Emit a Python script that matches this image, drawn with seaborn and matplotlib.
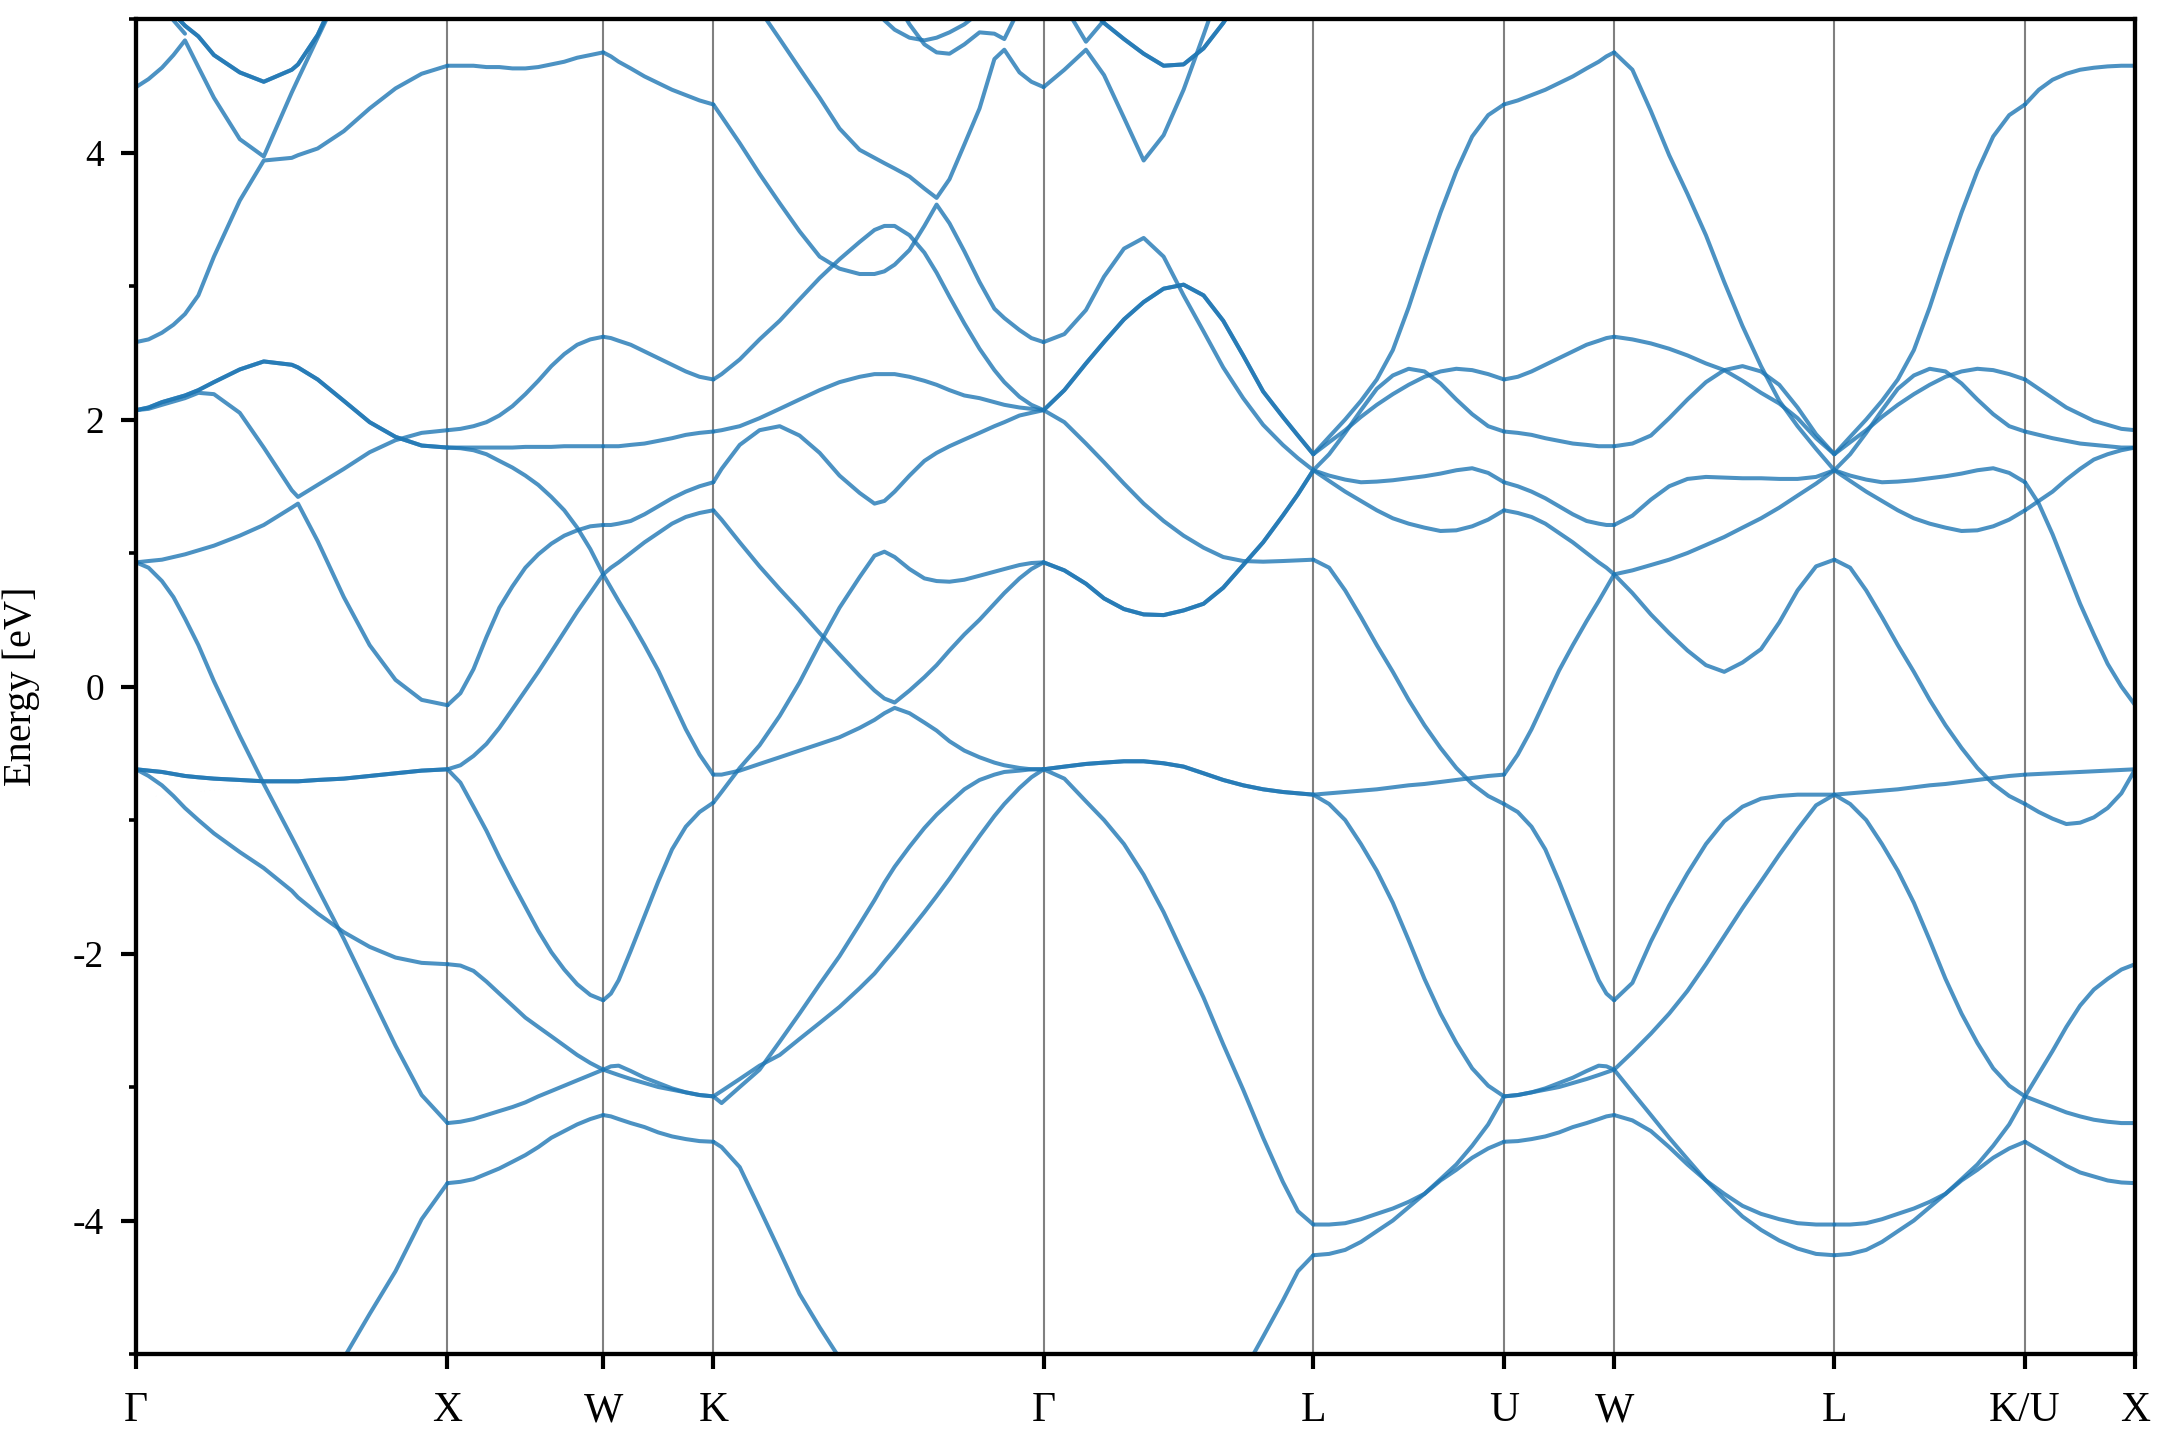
import numpy as np
import pandas as pd
import matplotlib
matplotlib.use("Agg")
import matplotlib.pyplot as plt
from matplotlib.ticker import MultipleLocator
import seaborn as sns

nan = np.nan

# high-symmetry points of the fcc path, cumulative |k| in units of 2pi/a
kpoint_labels = ["Γ", "X", "W", "K", "Γ", "L", "U", "W", "L", "K/U", "X"]
kpoint_pos = [0.0, 1.0, 1.5, 1.8536, 2.9142, 3.7802, 4.3926, 4.7462, 5.4533, 6.0657, 6.4193]

# ---- Gamma -> X
gx_frac = [0, 0.04, 0.083, 0.12, 0.157, 0.2, 0.25, 0.333, 0.41, 0.5, 0.52, 0.583, 0.667, 0.75, 0.833, 0.917, 1]
gx_bands = [
    [nan] * 11 + [-5.4, -5.03, -4.70, -4.38, -3.99, -3.72],
    [0.93, 0.89, 0.79, 0.67, 0.51, 0.31, 0.04, -0.37, -0.73, -1.13, -1.22, -1.51, -1.89, -2.29, -2.69, -3.06, -3.27],
    [-0.62, -0.67, -0.74, -0.82, -0.91, -1.00, -1.10, -1.24, -1.36, -1.53, -1.58, -1.70, -1.84, -1.95, -2.03, -2.07, -2.08],
    [-0.62, -0.63, -0.64, -0.655, -0.67, -0.68, -0.69, -0.70, -0.71, -0.71, -0.71, -0.70, -0.69, -0.67, -0.65, -0.63, -0.62],
    [0.93, 0.94, 0.95, 0.97, 0.99, 1.02, 1.055, 1.13, 1.21, 1.34, 1.37, 1.09, 0.67, 0.31, 0.05, -0.10, -0.14],
    [2.07, 2.08, 2.11, 2.135, 2.16, 2.20, 2.19, 2.05, 1.79, 1.47, 1.42, 1.51, 1.63, 1.755, 1.845, 1.90, 1.92],
    [2.07, 2.09, 2.13, 2.155, 2.18, 2.22, 2.28, 2.375, 2.435, 2.41, 2.39, 2.30, 2.14, 1.98, 1.87, 1.805, 1.79],
    [2.58, 2.60, 2.65, 2.71, 2.79, 2.93, 3.22, 3.64, 3.94, 3.96, 3.98, 4.03, 4.16, 4.33, 4.48, 4.59, 4.65],
    [4.49, 4.55, 4.635, 4.73, 4.84, 4.64, 4.41, 4.10, 3.97, 4.45, 4.55, 4.86, 5.27, nan, nan, nan, nan],
    [nan, nan, 5.13, 5.04, 4.95, 4.87, 4.73, 4.60, 4.53, 4.62, 4.66, 4.88, 5.3, nan, nan, nan, nan],
    [nan, nan, 5.10, 4.99, 4.89] + [nan] * 12,
]
gx_deg = [1, 1, 1, 2, 1, 1, 2, 1, 1, 2, 1]

# ---- X -> W
xw_frac = [0, 0.083, 0.167, 0.25, 0.333, 0.417, 0.5, 0.583, 0.667, 0.75, 0.833, 0.917, 1]
xw_bands = [
    [-3.72, -3.71, -3.69, -3.65, -3.61, -3.56, -3.51, -3.45, -3.38, -3.33, -3.28, -3.24, -3.21],
    [-3.27, -3.26, -3.24, -3.21, -3.18, -3.15, -3.115, -3.07, -3.03, -2.99, -2.95, -2.91, -2.87],
    [-2.08, -2.09, -2.13, -2.21, -2.30, -2.39, -2.48, -2.55, -2.62, -2.69, -2.76, -2.82, -2.87],
    [-0.62, -0.72, -0.90, -1.08, -1.28, -1.47, -1.65, -1.83, -1.99, -2.12, -2.23, -2.31, -2.35],
    [-0.62, -0.59, -0.52, -0.43, -0.31, -0.17, -0.03, 0.11, 0.26, 0.41, 0.56, 0.70, 0.84],
    [-0.14, -0.05, 0.13, 0.37, 0.59, 0.75, 0.89, 0.99, 1.07, 1.13, 1.17, 1.20, 1.21],
    [1.79, 1.785, 1.77, 1.74, 1.69, 1.64, 1.58, 1.51, 1.42, 1.32, 1.19, 1.03, 0.84],
    [1.79, 1.79, 1.79, 1.79, 1.79, 1.79, 1.795, 1.795, 1.795, 1.80, 1.80, 1.80, 1.80],
    [1.92, 1.93, 1.95, 1.98, 2.03, 2.10, 2.19, 2.29, 2.40, 2.49, 2.56, 2.60, 2.62],
    [4.65, 4.65, 4.65, 4.64, 4.64, 4.63, 4.63, 4.64, 4.66, 4.68, 4.71, 4.73, 4.75],
]
xw_deg = [1] * len(xw_bands)

# ---- W -> K
wk_frac = [0, 0.07, 0.14, 0.25, 0.375, 0.5, 0.625, 0.75, 0.875, 1]
wk_bands = [
    [-3.21, -3.22, -3.24, -3.27, -3.30, -3.34, -3.37, -3.39, -3.405, -3.41],
    [-2.87, -2.845, -2.84, -2.88, -2.93, -2.97, -3.01, -3.04, -3.06, -3.07],
    [-2.87, -2.89, -2.91, -2.94, -2.97, -3.00, -3.02, -3.04, -3.06, -3.07],
    [-2.35, -2.30, -2.20, -1.98, -1.72, -1.46, -1.22, -1.05, -0.94, -0.87],
    [0.84, 0.89, 0.93, 1.00, 1.08, 1.15, 1.22, 1.27, 1.30, 1.32],
    [1.21, 1.21, 1.22, 1.24, 1.29, 1.35, 1.41, 1.46, 1.50, 1.53],
    [0.84, 0.74, 0.64, 0.49, 0.31, 0.12, -0.10, -0.32, -0.51, -0.66],
    [1.80, 1.80, 1.80, 1.81, 1.82, 1.84, 1.86, 1.885, 1.90, 1.91],
    [2.62, 2.61, 2.59, 2.56, 2.51, 2.46, 2.41, 2.36, 2.32, 2.30],
    [4.75, 4.72, 4.68, 4.63, 4.57, 4.52, 4.47, 4.43, 4.39, 4.36],
]
wk_deg = [1] * len(wk_bands)

# ---- K -> Gamma
kg_frac = [0, 0.025, 0.080, 0.140, 0.201, 0.261, 0.322, 0.382, 0.443, 0.488, 0.518, 0.549,
           0.594, 0.639, 0.676, 0.715, 0.760, 0.806, 0.851, 0.881, 0.927, 0.963, 1]
kg_bands = [
    [-3.41, -3.45, -3.60, -3.91, -4.23, -4.55, -4.80, -5.03] + [nan] * 15,
    [-3.07, -3.12, -3.00, -2.87, -2.66, -2.45, -2.23, -2.02, -1.78, -1.60, -1.47, -1.35,
     -1.20, -1.06, -0.96, -0.87, -0.77, -0.70, -0.66, -0.64, -0.63, -0.62, -0.62],
    [-3.07, -3.03, -2.94, -2.84, -2.76, -2.64, -2.52, -2.40, -2.26, -2.15, -2.06, -1.97,
     -1.83, -1.69, -1.57, -1.44, -1.28, -1.12, -0.97, -0.88, -0.76, -0.68, -0.62],
    [-0.66, -0.66, -0.63, -0.58, -0.53, -0.48, -0.43, -0.38, -0.31, -0.25, -0.20, -0.16,
     -0.20, -0.27, -0.33, -0.41, -0.48, -0.53, -0.57, -0.59, -0.61, -0.62, -0.62],
    [1.32, 1.25, 1.08, 0.90, 0.73, 0.57, 0.40, 0.24, 0.08, -0.03, -0.09, -0.12,
     -0.03, 0.07, 0.16, 0.27, 0.39, 0.50, 0.62, 0.70, 0.81, 0.88, 0.93],
    [-0.87, -0.79, -0.61, -0.44, -0.22, 0.03, 0.32, 0.59, 0.82, 0.98, 1.01, 0.97,
     0.88, 0.81, 0.79, 0.785, 0.80, 0.83, 0.86, 0.88, 0.91, 0.925, 0.93],
    [1.53, 1.63, 1.81, 1.92, 1.95, 1.88, 1.75, 1.58, 1.45, 1.37, 1.39, 1.46,
     1.58, 1.69, 1.75, 1.80, 1.85, 1.90, 1.95, 1.98, 2.03, 2.05, 2.07],
    [1.91, 1.92, 1.95, 2.01, 2.08, 2.15, 2.22, 2.28, 2.32, 2.34, 2.34, 2.34,
     2.32, 2.29, 2.26, 2.22, 2.18, 2.16, 2.13, 2.11, 2.09, 2.08, 2.07],
    [2.30, 2.34, 2.45, 2.60, 2.74, 2.90, 3.06, 3.20, 3.33, 3.42, 3.45, 3.45,
     3.38, 3.25, 3.10, 2.92, 2.72, 2.53, 2.37, 2.28, 2.17, 2.11, 2.07],
    [4.36, 4.27, 4.07, 3.84, 3.62, 3.41, 3.22, 3.13, 3.09, 3.09, 3.11, 3.16,
     3.27, 3.45, 3.61, 3.47, 3.26, 3.03, 2.83, 2.76, 2.67, 2.61, 2.58],
    [nan, nan, 5.3, 5.07, 4.85, 4.63, 4.41, 4.18, 4.02, 3.96, 3.92, 3.88,
     3.82, 3.73, 3.66, 3.80, 4.06, 4.33, 4.70, 4.77, 4.60, 4.53, 4.49],
    [nan] * 9 + [5.08, 4.99, 4.92, 4.86, 4.84, 4.86, 4.90, 4.96, 5.05] + [nan] * 5,
    [nan] * 11 + [5.15, 4.96, 4.81, 4.75, 4.74, 4.81, 4.90, 4.89, 4.85, 5.08] + [nan] * 2,
]
kg_deg = [1] * len(kg_bands)

# ---- Gamma -> L
gl_frac = [0, 0.077, 0.157, 0.224, 0.298, 0.371, 0.445, 0.519, 0.593, 0.666, 0.740, 0.814, 0.887, 0.943, 1]
gl_bands = [
    [nan] * 10 + [-5.14, -4.87, -4.60, -4.38, -4.26],
    [-0.62, -0.69, -0.86, -1.00, -1.18, -1.41, -1.69, -2.01, -2.33, -2.68, -3.02, -3.38, -3.71, -3.93, -4.03],
    [-0.62, -0.60, -0.58, -0.57, -0.56, -0.56, -0.575, -0.60, -0.65, -0.70, -0.74, -0.77, -0.79, -0.80, -0.81],
    [0.93, 0.87, 0.77, 0.66, 0.58, 0.54, 0.535, 0.57, 0.62, 0.74, 0.91, 1.08, 1.28, 1.44, 1.62],
    [2.07, 1.98, 1.82, 1.68, 1.52, 1.37, 1.24, 1.13, 1.04, 0.97, 0.94, 0.935, 0.94, 0.945, 0.95],
    [2.07, 2.22, 2.42, 2.58, 2.75, 2.88, 2.98, 3.01, 2.93, 2.74, 2.48, 2.21, 2.02, 1.88, 1.74],
    [2.58, 2.64, 2.82, 3.07, 3.28, 3.36, 3.22, 2.93, 2.66, 2.39, 2.16, 1.96, 1.81, 1.71, 1.62],
    [4.49, 4.62, 4.77, 4.58, 4.26, 3.94, 4.13, 4.47, 4.88, 5.3, nan, nan, nan, nan, nan],
    [nan, 5.10, 4.83, 4.99] + [nan] * 11,
    [nan, nan, 5.12, 4.97, 4.85, 4.74, 4.65, 4.66, 4.78, 4.97, 5.2, nan, nan, nan, nan],
]
gl_deg = [1, 1, 2, 2, 1, 2, 1, 1, 1, 2]

# ---- L -> U  (L -> K looks the same in the plot)
lu_frac = [0, 0.083, 0.167, 0.25, 0.333, 0.417, 0.5, 0.583, 0.667, 0.75, 0.833, 0.917, 1]
lu_bands = [
    [-4.26, -4.25, -4.22, -4.16, -4.08, -4.00, -3.90, -3.80, -3.70, -3.62, -3.53, -3.46, -3.41],
    [-4.03, -4.03, -4.02, -3.99, -3.95, -3.91, -3.86, -3.80, -3.69, -3.58, -3.44, -3.28, -3.07],
    [-0.81, -0.88, -1.00, -1.18, -1.38, -1.62, -1.90, -2.19, -2.45, -2.67, -2.86, -2.99, -3.07],
    [-0.81, -0.80, -0.79, -0.78, -0.77, -0.755, -0.74, -0.73, -0.715, -0.70, -0.685, -0.67, -0.66],
    [0.95, 0.89, 0.72, 0.52, 0.31, 0.11, -0.10, -0.29, -0.46, -0.61, -0.73, -0.82, -0.88],
    [1.62, 1.54, 1.46, 1.39, 1.32, 1.26, 1.22, 1.19, 1.165, 1.17, 1.20, 1.25, 1.32],
    [1.62, 1.58, 1.55, 1.53, 1.535, 1.545, 1.56, 1.575, 1.595, 1.62, 1.635, 1.60, 1.53],
    [1.62, 1.74, 1.90, 2.07, 2.23, 2.33, 2.38, 2.36, 2.27, 2.15, 2.04, 1.95, 1.91],
    [1.74, 1.83, 1.92, 2.02, 2.11, 2.19, 2.26, 2.32, 2.36, 2.38, 2.37, 2.34, 2.30],
    [1.74, 1.87, 2.00, 2.14, 2.30, 2.52, 2.84, 3.20, 3.55, 3.86, 4.12, 4.28, 4.36],
]
lu_deg = [1] * len(lu_bands)

# ---- U -> W
uw_frac = [0, 0.125, 0.25, 0.375, 0.5, 0.625, 0.75, 0.86, 0.93, 1]
uw_bands = [
    [-3.41, -3.405, -3.39, -3.37, -3.34, -3.30, -3.27, -3.24, -3.22, -3.21],
    [-3.07, -3.06, -3.04, -3.02, -3.00, -2.97, -2.94, -2.91, -2.89, -2.87],
    [-3.07, -3.06, -3.04, -3.01, -2.97, -2.93, -2.88, -2.84, -2.845, -2.87],
    [-0.88, -0.94, -1.05, -1.22, -1.46, -1.72, -1.98, -2.20, -2.30, -2.35],
    [-0.66, -0.51, -0.32, -0.10, 0.12, 0.31, 0.49, 0.64, 0.74, 0.84],
    [1.32, 1.30, 1.27, 1.22, 1.15, 1.08, 1.00, 0.93, 0.89, 0.84],
    [1.53, 1.50, 1.46, 1.41, 1.35, 1.29, 1.24, 1.22, 1.21, 1.21],
    [1.91, 1.90, 1.885, 1.86, 1.84, 1.82, 1.81, 1.80, 1.80, 1.80],
    [2.30, 2.32, 2.36, 2.41, 2.46, 2.51, 2.56, 2.59, 2.61, 2.62],
    [4.36, 4.39, 4.43, 4.47, 4.52, 4.57, 4.63, 4.68, 4.72, 4.75],
]
uw_deg = [1] * len(uw_bands)

# ---- W -> L
wl_frac = [0, 0.083, 0.167, 0.25, 0.333, 0.417, 0.5, 0.583, 0.667, 0.75, 0.833, 0.917, 1]
wl_bands = [
    [-3.21, -3.25, -3.33, -3.45, -3.58, -3.70, -3.80, -3.89, -3.95, -3.99, -4.02, -4.03, -4.03],
    [-2.87, -3.04, -3.21, -3.38, -3.54, -3.70, -3.84, -3.97, -4.07, -4.15, -4.21, -4.25, -4.26],
    [-2.87, -2.74, -2.60, -2.45, -2.28, -2.08, -1.87, -1.66, -1.46, -1.26, -1.07, -0.89, -0.81],
    [-2.35, -2.22, -1.91, -1.64, -1.40, -1.18, -1.01, -0.90, -0.84, -0.82, -0.81, -0.81, -0.81],
    [0.84, 0.70, 0.54, 0.40, 0.27, 0.16, 0.11, 0.18, 0.28, 0.48, 0.72, 0.90, 0.95],
    [0.84, 0.87, 0.91, 0.95, 1.00, 1.06, 1.12, 1.19, 1.26, 1.34, 1.43, 1.52, 1.62],
    [1.21, 1.28, 1.40, 1.50, 1.555, 1.57, 1.565, 1.56, 1.56, 1.555, 1.555, 1.57, 1.62],
    [1.80, 1.82, 1.88, 2.01, 2.15, 2.28, 2.37, 2.40, 2.36, 2.26, 2.09, 1.89, 1.74],
    [2.62, 2.60, 2.57, 2.53, 2.48, 2.42, 2.37, 2.29, 2.20, 2.12, 2.01, 1.86, 1.74],
    [4.75, 4.62, 4.31, 3.98, 3.69, 3.38, 3.03, 2.70, 2.40, 2.14, 1.95, 1.78, 1.62],
]
wl_deg = [1] * len(wl_bands)

# ---- U -> X
ux_frac = [0, 0.125, 0.25, 0.375, 0.5, 0.625, 0.75, 0.875, 1]
ux_bands = [
    [-3.41, -3.47, -3.53, -3.59, -3.64, -3.67, -3.70, -3.715, -3.72],
    [-3.07, -3.11, -3.15, -3.19, -3.22, -3.245, -3.26, -3.27, -3.27],
    [-3.07, -2.90, -2.73, -2.55, -2.39, -2.27, -2.19, -2.12, -2.08],
    [-0.88, -0.94, -0.99, -1.03, -1.02, -0.98, -0.91, -0.80, -0.62],
    [-0.66, -0.655, -0.65, -0.645, -0.64, -0.635, -0.63, -0.625, -0.62],
    [1.53, 1.37, 1.14, 0.88, 0.62, 0.39, 0.17, 0.00, -0.14],
    [1.32, 1.39, 1.46, 1.55, 1.63, 1.70, 1.74, 1.77, 1.79],
    [1.91, 1.885, 1.86, 1.84, 1.82, 1.81, 1.80, 1.79, 1.79],
    [2.30, 2.23, 2.16, 2.09, 2.04, 1.99, 1.96, 1.93, 1.92],
    [4.36, 4.47, 4.545, 4.59, 4.62, 4.635, 4.645, 4.65, 4.65],
]
ux_deg = [1] * len(ux_bands)

segments = [
    (gx_frac, gx_bands, gx_deg),
    (xw_frac, xw_bands, xw_deg),
    (wk_frac, wk_bands, wk_deg),
    (kg_frac, kg_bands, kg_deg),
    (gl_frac, gl_bands, gl_deg),
    (lu_frac, lu_bands, lu_deg),
    (uw_frac, uw_bands, uw_deg),
    (wl_frac, wl_bands, wl_deg),
    (lu_frac, lu_bands, lu_deg),
    (ux_frac, ux_bands, ux_deg),
]

# long-form table, one unit per drawn line (degenerate bands drawn twice)
rows = []
line_id = 0
for i, (frac, bands, deg) in enumerate(segments):
    k0, k1 = kpoint_pos[i], kpoint_pos[i + 1]
    k = k0 + np.array(frac) * (k1 - k0)
    for band, n in zip(bands, deg):
        for _ in range(n):
            for kk, e in zip(k, band):
                if not np.isnan(e):
                    rows.append((kk, e, line_id))
            line_id += 1
df = pd.DataFrame(rows, columns=["k", "energy", "line"])

sns.set_theme(style="ticks", rc={"axes.edgecolor": "black", "xtick.color": "black",
                                 "ytick.color": "black", "text.color": "black",
                                 "axes.labelcolor": "black"})
plt.rcParams["font.family"] = ["Liberation Serif", "DejaVu Serif"]
plt.rcParams["axes.unicode_minus"] = False

fig, ax = plt.subplots(figsize=(10.8, 7.2), dpi=200)
fig.subplots_adjust(left=0.063, right=0.9885, bottom=0.0597, top=0.9868)

for kp in kpoint_pos[1:-1]:
    ax.axvline(kp, color="0.5", lw=0.75, zorder=1)

sns.lineplot(data=df, x="k", y="energy", units="line", estimator=None, sort=False,
             color="#1f77b4", alpha=0.8, linewidth=1.45, legend=False, ax=ax, zorder=2)

ax.set_xlim(kpoint_pos[0], kpoint_pos[-1])
ax.set_ylim(-5, 5)
ax.set_xticks(kpoint_pos)
ax.set_xticklabels(kpoint_labels, fontsize=15)
ax.set_yticks([-4, -2, 0, 2, 4])
ax.yaxis.set_minor_locator(MultipleLocator(1))
ax.tick_params(axis="y", labelsize=13.5, pad=6)
ax.tick_params(axis="x", pad=8)
ax.tick_params(which="major", direction="out", length=5.5, width=1.5)
ax.tick_params(which="minor", direction="out", length=2.7, width=1.3)
ax.tick_params(top=False, right=False)
for s in ax.spines.values():
    s.set_linewidth(1.55)

ax.set_xlabel("")
ax.set_ylabel("Energy [eV]", fontsize=14.5)
ax.yaxis.set_label_coords(-0.048, 0.5)

fig.savefig("out.png", dpi=200)
